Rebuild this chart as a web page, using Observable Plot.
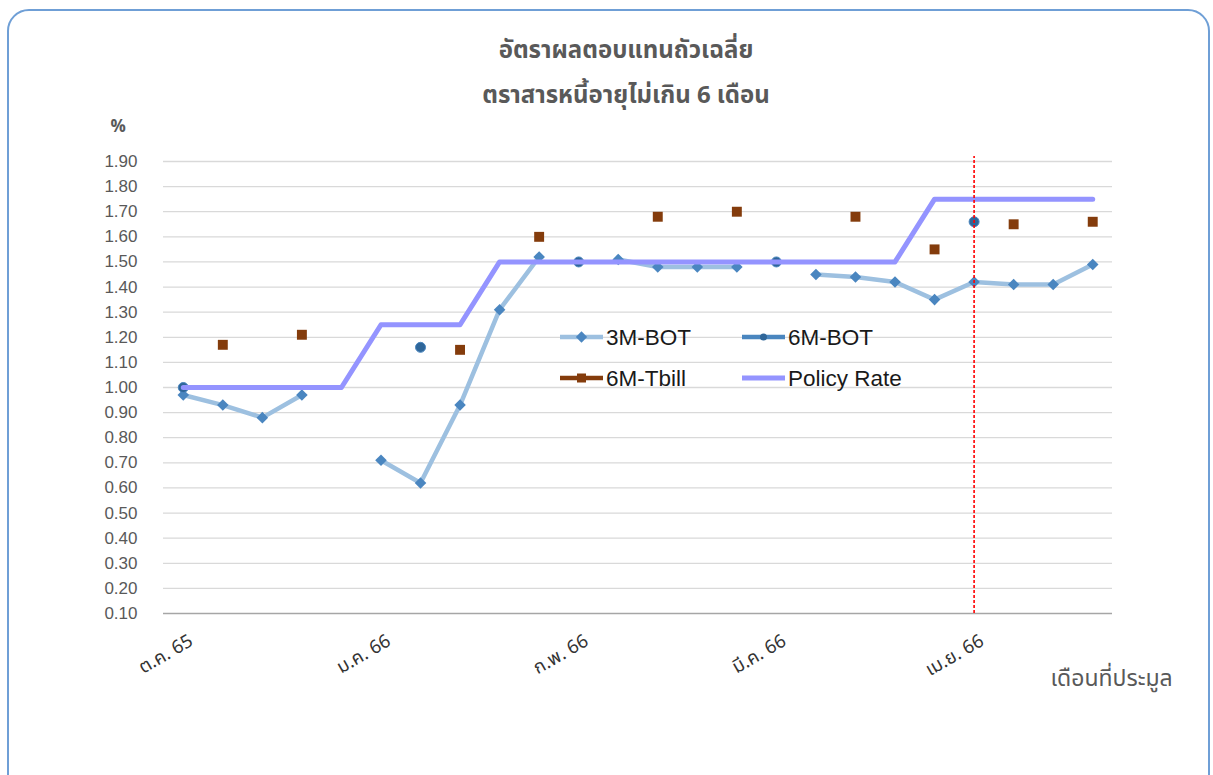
<!DOCTYPE html>
<html>
<head>
<meta charset="utf-8">
<script src="https://cdn.jsdelivr.net/npm/d3@7"></script>
<script src="https://cdn.jsdelivr.net/npm/@observablehq/plot@0.6"></script>
<style>
  html, body { margin: 0; padding: 0; background: #fff; }
  #wrap { position: relative; width: 1213px; height: 775px; overflow: hidden; font-family: Tahoma, "Noto Sans Thai", "Noto Sans", "DejaVu Sans", sans-serif; }
  #frame { position: absolute; left: 7px; top: 9px; width: 1203px; height: 790px; box-sizing: border-box; border: 2px solid #6f9fd6; border-radius: 22px; }
  #header { position: relative; height: 115px; }
  .title { position: absolute; left: 626px; transform: translateX(-50%); white-space: nowrap; font-size: 24px; font-weight: bold; color: #595959; }
  #legend { position: absolute; left: 555px; top: 318px; }
</style>
</head>
<body>
<div id="wrap">
  <div id="frame"></div>
  <div id="header">
    <div class="title" style="top:33px">อัตราผลตอบแทนถัวเฉลี่ย</div>
    <div class="title" style="top:78px">ตราสารหนี้อายุไม่เกิน 6 เดือน</div>
  </div>
  <div id="chart"></div>
  <svg id="legend" width="400" height="80"></svg>
</div>
<script>
// ---- data ----
const periods = [1,2,3,4,5,6,7,8,9,10,11,12,13,14,15,16,17,18,19,20,21,22,23,24];
const bot3m   = [0.97,0.93,0.88,0.97,null,0.71,0.62,0.93,1.31,1.52,null,1.51,1.48,1.48,1.48,null,1.45,1.44,1.42,1.35,1.42,1.41,1.41,1.49];
const bot6m   = [1.00,null,null,null,null,null,1.16,null,null,null,1.50,null,null,null,null,1.50,null,null,null,null,1.66,null,null,null];
const tbill6m = [null,1.17,null,1.21,null,null,null,1.15,null,1.60,null,null,1.68,null,1.70,null,null,1.68,null,1.55,null,1.65,null,1.66];
const policy  = [1.00,1.00,1.00,1.00,1.00,1.25,1.25,1.25,1.50,1.50,1.50,1.50,1.50,1.50,1.50,1.50,1.50,1.50,1.50,1.75,1.75,1.75,1.75,1.75];
const xTickPeriods = [1,6,11,16,21];
const xTickLabels  = ["ต.ค. 65","ม.ค. 66","ก.พ. 66","มี.ค. 66","เม.ย. 66"];
const yTicks = [0.10,0.20,0.30,0.40,0.50,0.60,0.70,0.80,0.90,1.00,1.10,1.20,1.30,1.40,1.50,1.60,1.70,1.80,1.90];
const markerPeriod = 21;
const markerTop = 1.92;
const seriesNames = ["3M-BOT","6M-BOT","6M-Tbill","Policy Rate"];

const rows = periods.map((p, i) => ({p, bot3m: bot3m[i], bot6m: bot6m[i], tbill6m: tbill6m[i], policy: policy[i]}));
const xTicks = xTickPeriods.map((p, i) => ({p, label: xTickLabels[i]}));

const C3 = "#9dc0e0", C3m = "#4a86c0", C6 = "#2f6699", C6l = "#4a86bf", CT = "#843c0c", CP = "#9494ff";
const font = 'Tahoma, "Noto Sans Thai", "Noto Sans", "DejaVu Sans", sans-serif';

const chart = Plot.plot({
  width: 1213, height: 660,
  marginTop: 46, marginBottom: 162, marginLeft: 163, marginRight: 101,
  x: {type: "point", domain: periods, padding: 0.5, round: false, axis: null},
  y: {domain: [0.1, 1.9], axis: null},
  style: {fontFamily: font, background: "transparent", overflow: "visible"},
  marks: [
    Plot.ruleY(yTicks.filter(v => v > 0.1), {y: d => d, stroke: "#d9d9d9", strokeWidth: 1.3}),
    Plot.ruleY([0.1], {stroke: "#a6a6a6", strokeWidth: 1.3}),
    Plot.text(yTicks, {y: d => d, text: d => d.toFixed(2), frameAnchor: "left", textAnchor: "end", dx: -26, fontSize: 17, fill: "#595959", fontFamily: '"Liberation Sans", Arial, sans-serif'}),
    Plot.line(rows, {x: "p", y: "bot3m", stroke: C3, strokeWidth: 4.5}),
    Plot.dot(rows, {x: "p", y: "bot3m", symbol: "square", rotate: 45, r: 4.6, fill: C3m}),
    Plot.dot(rows, {x: "p", y: "bot6m", r: 5, fill: C6, stroke: C6l, strokeWidth: 1}),
    Plot.dot(rows, {x: "p", y: "tbill6m", symbol: "square", r: 5.6, fill: CT}),
    Plot.line(rows, {x: "p", y: "policy", stroke: CP, strokeWidth: 5}),
    Plot.ruleX([markerPeriod], {x: d => d, y1: 0.1, y2: markerTop, stroke: "#ff0000", strokeWidth: 1.6, strokeDasharray: "3,2"}),
    Plot.text(xTicks, {x: "p", text: "label", frameAnchor: "bottom", textAnchor: "end", rotate: -30, dx: 11, dy: 31, fontSize: 18.5, fill: "#333333"}),
    Plot.text(["%"], {frameAnchor: "top-left", dx: -53, dy: -42, fontSize: 17, fontWeight: "bold", fill: "#595959"}),
    Plot.text(["เดือนที่ประมูล"], {frameAnchor: "bottom-right", textAnchor: "start", dx: -62, dy: 72, fontSize: 23, fill: "#595959"})
  ]
});
document.getElementById("chart").appendChild(chart);

// ---- legend ----
const lg = d3.select("#legend");
const items = [
  {name: seriesNames[0], col: 0, row: 0, stroke: C3, mark: "diamond", fill: C3m},
  {name: seriesNames[1], col: 1, row: 0, stroke: C6l, mark: "circle", fill: C6},
  {name: seriesNames[2], col: 0, row: 1, stroke: CT, mark: "square", fill: CT},
  {name: seriesNames[3], col: 1, row: 1, stroke: CP, mark: null}
];
items.forEach(it => {
  const x0 = 5 + it.col * 182, y0 = 19 + it.row * 41;
  const g = lg.append("g").attr("transform", `translate(${x0},${y0})`);
  g.append("line").attr("x1", 0).attr("x2", 43).attr("y1", 0).attr("y2", 0).attr("stroke", it.stroke).attr("stroke-width", it.mark === null ? 5 : 4.5);
  if (it.mark === "diamond") g.append("rect").attr("x", -4).attr("y", -4).attr("width", 8).attr("height", 8).attr("fill", it.fill).attr("transform", "translate(21.5,0) rotate(45)");
  if (it.mark === "circle") g.append("circle").attr("cx", 21.5).attr("cy", 0).attr("r", 3.5).attr("fill", it.fill);
  if (it.mark === "square") g.append("rect").attr("x", 17).attr("y", -4.5).attr("width", 9).attr("height", 9).attr("fill", it.fill);
  g.append("text").attr("x", 46).attr("y", 0).attr("dy", "0.36em").attr("font-size", 22.5).attr("fill", "#1a1a1a").attr("font-family", '"Liberation Sans", Arial, sans-serif').text(it.name);
});
</script>
</body>
</html>
